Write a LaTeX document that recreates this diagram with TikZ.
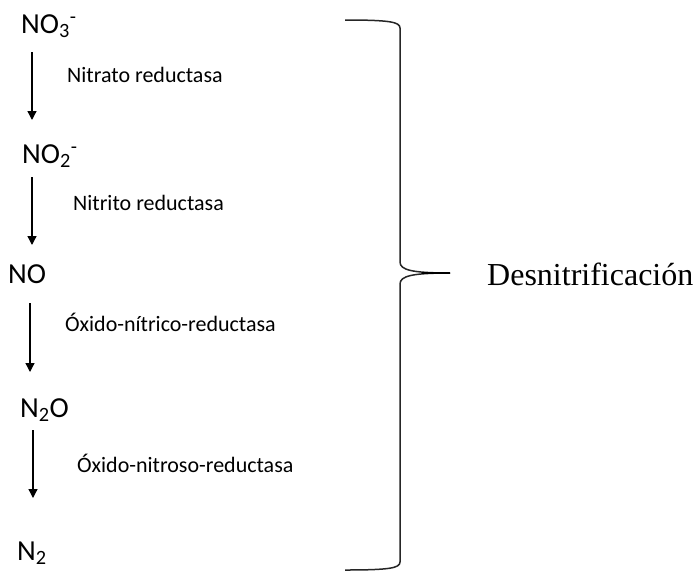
\documentclass[tikz,border=0pt]{standalone}
\usepackage{fontspec}
\setmainfont{Carlito}
\newfontfamily\timesfont{Liberation Serif}
\usetikzlibrary{arrows.meta,calc}

\begin{document}
\begin{tikzpicture}[x=1pt, y=-1pt,
        especie/.style={anchor=base west, inner sep=0pt, font=\fontsize{29}{34}\selectfont},
        enzima/.style={anchor=base west, inner sep=0pt, font=\fontsize{22}{26}\selectfont},
        flecha/.style={line width=1.3pt, -{Triangle[length=9pt, width=9pt]}},
        llave/.style={line width=1.5pt, black!85},
    ]
    \useasboundingbox (0,0) rectangle (695,573);
    % --- especies ---
    \node[especie] (no3) at (21,33) {NO\textsubscript{3}\textsuperscript{-}};
    \node[especie] (no2) at (22,163) {NO\textsubscript{2}\textsuperscript{-}};
    \node[especie] (no) at (8,283) {NO};
    \node[especie] (n2o) at (20,417) {N\textsubscript{2}O};
    \node[especie] (n2) at (17,560) {N\textsubscript{2}};
    % --- enzimas ---
    \node[enzima] (enz1) at (67,82) {Nitrato reductasa};
    \node[enzima] (enz2) at (73,210) {Nitrito reductasa};
    \node[enzima] (enz3) at (65,331) {Óxido-nítrico-reductasa};
    \node[enzima] (enz4) at (77,472) {Óxido-nitroso-reductasa};
    % --- flechas ---
    \draw[flecha] ($(no3.base west)+(11,19)$) -- ($(no2.base west)+(10,-43)$);
    \draw[flecha] ($(no2.base west)+(10,14)$) -- ($(no.base west)+(24,-38)$);
    \draw[flecha] ($(no.base west)+(22,20)$) -- ($(n2o.base west)+(10,-45)$);
    \draw[flecha] ($(n2o.base west)+(13,13)$) -- ($(n2.base west)+(16,-62)$);
    % --- llave ---
    \coordinate (btop) at (345,20);
    \coordinate (bbot) at (345,570);
    \coordinate (btip) at (450,273);
    \draw[llave] (btop) .. controls (390,20) and (400,22) .. (400,28)
        -- (400,262) .. controls (400,270) and (412,273) .. (btip);
    \draw[llave] (btip) .. controls (412,273) and (400,276) .. (400,284)
        -- (400,562) .. controls (400,568) and (390,570) .. (bbot);
    \draw[line width=2.5pt] (422,273) -- (btip);
    \node[anchor=base west, inner sep=0pt, font=\timesfont\fontsize{32}{38}\selectfont] (desn) at (487,285) {Desnitrificación};
\end{tikzpicture}
\end{document}
